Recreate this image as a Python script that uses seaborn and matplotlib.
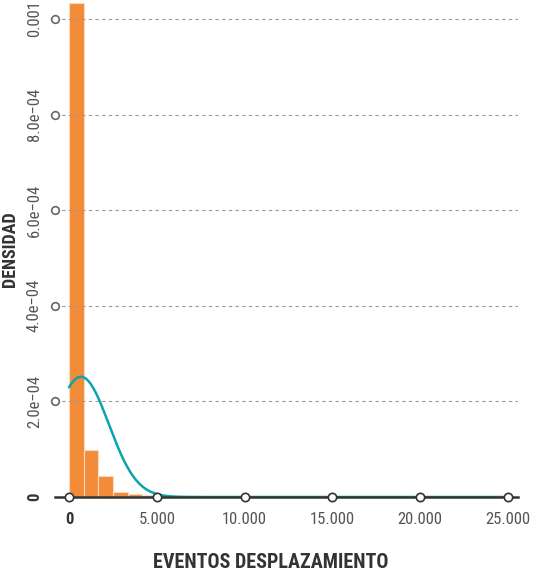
import numpy as np
import pandas as pd
import seaborn as sns
import matplotlib.pyplot as plt
from matplotlib import font_manager

# Datos
bin_edges = np.linspace(0, 25000, 31).tolist()   # 30 clases de ~833 eventos
bin_counts = [861, 82, 37, 9, 5, 4, 0, 0, 0, 0,
              2, 0, 0, 0, 0, 0, 0, 0, 0, 0,
              0, 0, 0, 0, 0, 0, 0, 0, 0, 0]
curve_mean = 680     # media de la normal superpuesta
curve_sd = 1586      # desviación típica

x_ticks = [0, 5000, 10000, 15000, 20000, 25000]
x_labels = ["0", "5.000", "10.000", "15.000", "20.000", "25.000"]
y_ticks = [0, 2e-4, 4e-4, 6e-4, 8e-4, 1e-3]
y_labels = ["0", "2.0e\u221204", "4.0e\u221204", "6.0e\u221204", "8.0e\u221204", "0.001"]

ORANGE = "#F28C38"
TEAL = "#0AA5AE"
DARK = "#333333"
GREY = "#555555"

sns.set_theme(style="white")
available = {f.name for f in font_manager.fontManager.ttflist}
family = [f for f in ["Liberation Sans Narrow", "Roboto Condensed", "DejaVu Sans"] if f in available]
plt.rcParams["font.family"] = family
plt.rcParams["font.stretch"] = "condensed"

edges = np.array(bin_edges)
mids = (edges[:-1] + edges[1:]) / 2
df = pd.DataFrame({"eventos": mids, "n": bin_counts})

fig = plt.figure(figsize=(5.34, 5.76), dpi=100)
ax = fig.add_axes([55 / 534, 79 / 576, 463 / 534, 497 / 576])

sns.histplot(data=df, x="eventos", weights="n", bins=bin_edges, stat="density",
             color=ORANGE, alpha=1, edgecolor="#FBD9BF", linewidth=0.8, ax=ax, zorder=1)

grid = np.linspace(0, 25000, 600)
dens = np.exp(-0.5 * ((grid - curve_mean) / curve_sd) ** 2) / (curve_sd * np.sqrt(2 * np.pi))
sns.lineplot(x=grid, y=dens, color=TEAL, linewidth=1.8, ax=ax, zorder=2)

ax.set_xlim(-797, 25570)
ax.set_ylim(0, 1.0397e-3)

for side in ["left", "right", "top"]:
    ax.spines[side].set_visible(False)
ax.spines["bottom"].set_color(DARK)
ax.spines["bottom"].set_linewidth(1.8)
ax.spines["bottom"].set_zorder(2.2)

ax.yaxis.grid(True, linestyle=(0, (3, 3)), color="#999999", linewidth=0.8)
ax.xaxis.grid(False)
ax.set_axisbelow(False)

ax.set_xticks(x_ticks)
ax.set_xticklabels(x_labels)
ax.set_yticks(y_ticks)
ax.set_yticklabels(y_labels, rotation=90, va="center")
ax.tick_params(axis="both", direction="in", length=5.5, labelsize=12, labelcolor=GREY,
               left=True, bottom=True)
ax.tick_params(axis="y", pad=9.5)
ax.tick_params(axis="x", pad=11)

for t in ax.yaxis.get_major_ticks():
    t.tick1line.set_marker("o")
    t.tick1line.set_markerfacecolor("white")
    t.tick1line.set_markeredgecolor("#666666")
    t.tick1line.set_markeredgewidth(1.2)
    t.tick1line.set_markersize(5.5)
    t.gridline.set_zorder(0.5)
ax.yaxis.get_major_ticks()[0].tick1line.set_visible(False)
ax.yaxis.get_major_ticks()[0].gridline.set_visible(False)

for t in ax.xaxis.get_major_ticks():
    t.tick1line.set_marker("o")
    t.tick1line.set_markerfacecolor("white")
    t.tick1line.set_markeredgecolor(DARK)
    t.tick1line.set_markeredgewidth(1.2)
    t.tick1line.set_markersize(6)
    t.tick1line.set_zorder(3)

for lab in [ax.get_xticklabels()[0], ax.get_yticklabels()[0]]:
    lab.set_fontweight("bold")
    lab.set_color(DARK)

ax.set_xlabel("")
ax.set_ylabel("")
fig.text(10 / 534, 1 - 249 / 576, "DENSIDAD", rotation=90, ha="center", va="center",
         fontsize=13, fontweight="bold", color=DARK)
fig.text(271 / 534, 1 - 562 / 576, "EVENTOS DESPLAZAMIENTO", ha="center", va="center",
         fontsize=14.5, fontweight="bold", color=DARK)

fig.savefig("out.png", dpi=100)
